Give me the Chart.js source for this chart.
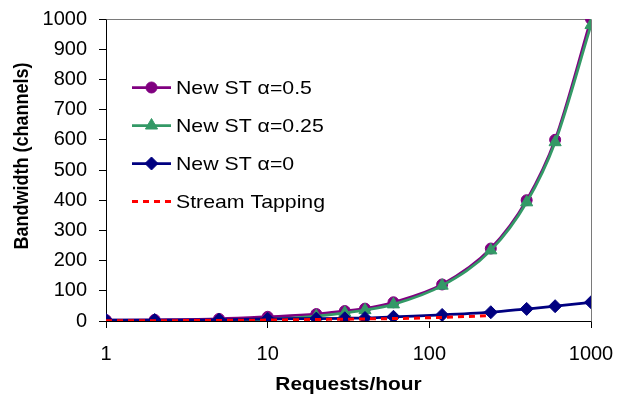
<!DOCTYPE html>
<html>
<head>
<meta charset="utf-8">
<script src="https://cdn.jsdelivr.net/npm/chart.js@4/dist/chart.umd.min.js"></script>
<style>
  html, body { margin: 0; padding: 0; background: #fff; }
  #wrap { width: 618px; height: 396px; }
</style>
</head>
<body>
<div id="wrap"><canvas id="c" width="618" height="396"></canvas></div>
<script>
// Requests per hour (log axis) and bandwidth in channels for each scheme
const requests      = [1, 2, 5, 10, 20, 30, 40, 60, 120, 240, 400, 600, 1000];
const newStAlpha05  = [3, 4, 7, 14, 23, 33, 41, 62, 121, 240, 400, 600, 1000];
const newStAlpha025 = [0, 0, 1, 5, 16, 27, 36, 55, 117, 234, 393, 592, 980];
const newStAlpha0   = [3, 3, 4, 7, 8, 9, 10, 14, 20, 29, 40, 49, 62];
const tapRequests   = [1, 2, 5, 10, 20, 30, 40, 60, 120, 240];
const streamTapping = [1, 1, 2, 3, 5, 6, 7, 8, 12, 18];

const xTickValues = [1, 10, 100, 1000];
const yTickMax = 1000;
const yTickStep = 100;

const seriesNames = ['New ST \u03b1=0.5', 'New ST \u03b1=0.25', 'New ST \u03b1=0', 'Stream Tapping'];
const xTitle = 'Requests/hour';
const yTitle = 'Bandwidth (channels)';

const FONT = '"Liberation Sans", Arial, sans-serif';
const TEXT_STRETCH = 1.1; // slightly wide lettering

function pairs(xs, ys) {
  return xs.map((x, i) => ({ x: x, y: ys[i] }));
}

const datasets = [
  {
    label: seriesNames[0],
    data: pairs(requests, newStAlpha05),
    borderColor: '#800080', backgroundColor: '#800080',
    borderWidth: 2.75, pointStyle: 'circle', pointRadius: 5.5,
    pointBorderWidth: 1, cubicInterpolationMode: 'monotone', order: 4
  },
  {
    label: seriesNames[1],
    data: pairs(requests, newStAlpha025),
    borderColor: '#339966', backgroundColor: '#339966',
    borderWidth: 2.75, pointStyle: 'triangle', pointRadius: 7,
    pointBorderWidth: 1, cubicInterpolationMode: 'monotone', order: 3
  },
  {
    label: seriesNames[2],
    data: pairs(requests, newStAlpha0),
    borderColor: '#000080', backgroundColor: '#000080',
    borderWidth: 2.75, pointStyle: 'rectRot', pointRadius: 6.5,
    pointBorderWidth: 1, cubicInterpolationMode: 'monotone', order: 2
  },
  {
    label: seriesNames[3],
    data: pairs(tapRequests, streamTapping),
    borderColor: '#ff0000', backgroundColor: '#ff0000',
    borderWidth: 3, borderDash: [6, 5], pointRadius: 0,
    cubicInterpolationMode: 'monotone', order: 1
  }
];

// Grey frame on the top and right edges of the plot area
const frame = {
  id: 'frame',
  beforeDatasetsDraw(chart) {
    const a = chart.chartArea, ctx = chart.ctx;
    ctx.save();
    ctx.strokeStyle = '#7a7a7a';
    ctx.lineWidth = 1;
    ctx.beginPath();
    ctx.moveTo(Math.round(a.left) + 0.5, Math.round(a.top) + 0.5);
    ctx.lineTo(Math.round(a.right) + 0.5, Math.round(a.top) + 0.5);
    ctx.lineTo(Math.round(a.right) + 0.5, Math.round(a.bottom) + 0.5);
    ctx.stroke();
    ctx.restore();
  }
};

// Legend box drawn inside the plot, upper left
const innerLegend = {
  id: 'innerLegend',
  afterDatasetsDraw(chart) {
    const a = chart.chartArea, ctx = chart.ctx;
    const x0 = a.left + 26, x1 = a.left + 65, tx = a.left + 70;
    ctx.save();
    chart.data.datasets.forEach((ds, i) => {
      const y = a.top + 68.5 + i * 38;
      ctx.strokeStyle = ds.borderColor;
      ctx.lineWidth = ds.borderWidth;
      ctx.setLineDash(ds.borderDash || []);
      ctx.beginPath();
      ctx.moveTo(x0, y);
      ctx.lineTo(x1, y);
      ctx.stroke();
      ctx.setLineDash([]);
      if (ds.pointRadius > 0) {
        ctx.fillStyle = ds.backgroundColor;
        ctx.strokeStyle = ds.borderColor;
        ctx.lineWidth = ds.pointBorderWidth;
        Chart.helpers.drawPoint(ctx, {
          pointStyle: ds.pointStyle, radius: ds.pointRadius,
          rotation: 0, borderWidth: ds.pointBorderWidth
        }, (x0 + x1) / 2, y);
      }
      ctx.save();
      ctx.fillStyle = '#000';
      ctx.font = '19px ' + FONT;
      ctx.textAlign = 'left';
      ctx.textBaseline = 'middle';
      ctx.translate(tx, y + 1);
      ctx.scale(TEXT_STRETCH + 0.02, 1);
      ctx.fillText(ds.label, 0, 0);
      ctx.restore();
    });
    ctx.restore();
  }
};

// Axis titles
const axisTitles = {
  id: 'axisTitles',
  afterDraw(chart) {
    const a = chart.chartArea, ctx = chart.ctx;
    ctx.save();
    ctx.fillStyle = '#000';
    ctx.textAlign = 'center';
    ctx.textBaseline = 'middle';
    ctx.save();
    ctx.font = 'bold 19px ' + FONT;
    ctx.translate((a.left + a.right) / 2, chart.height - 11);
    ctx.scale(TEXT_STRETCH, 1);
    ctx.fillText(xTitle, 0, 0);
    ctx.restore();
    ctx.save();
    ctx.font = 'bold 18px ' + FONT;
    ctx.translate(23, a.top + 137);
    ctx.rotate(-Math.PI / 2);
    ctx.scale(1, TEXT_STRETCH);
    ctx.fillText(yTitle, 0, 0);
    ctx.restore();
    ctx.restore();
  }
};

new Chart(document.getElementById('c'), {
  type: 'line',
  data: { datasets: datasets },
  options: {
    responsive: false,
    animation: false,
    devicePixelRatio: 1,
    layout: { padding: { left: 0, right: 27, top: 19, bottom: 0 } },
    plugins: { legend: { display: false }, tooltip: { enabled: false } },
    scales: {
      x: {
        type: 'logarithmic',
        position: 'bottom',
        min: 1, max: 1000,
        afterBuildTicks(scale) {
          scale.ticks = xTickValues.map(v => ({ value: v }));
        },
        afterFit(scale) {
          scale.height = 75;
          scale.paddingLeft = 0;
          scale.paddingRight = 0;
        },
        ticks: {
          color: '#000',
          font: { family: FONT, size: 20 },
          padding: 14,
          maxRotation: 0,
          autoSkip: false,
          callback: v => String(v)
        },
        grid: { display: true, drawOnChartArea: false, drawTicks: true, tickLength: 7, color: '#000', lineWidth: 1 },
        border: { display: true, color: '#000', width: 1 }
      },
      y: {
        type: 'linear',
        min: 0, max: yTickMax,
        afterFit(scale) {
          scale.width = 106;
          scale.paddingTop = 0;
          scale.paddingBottom = 0;
        },
        ticks: {
          stepSize: yTickStep,
          color: '#000',
          font: { family: FONT, size: 20 },
          padding: 12,
          callback: v => String(v)
        },
        grid: { display: true, drawOnChartArea: false, drawTicks: true, tickLength: 7, color: '#000', lineWidth: 1 },
        border: { display: true, color: '#000', width: 1 }
      }
    }
  },
  plugins: [frame, innerLegend, axisTitles]
});
</script>
</body>
</html>
